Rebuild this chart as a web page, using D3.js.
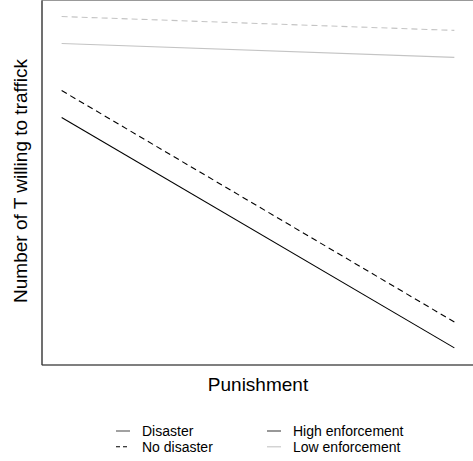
<!DOCTYPE html>
<html>
<head>
<meta charset="utf-8">
<script src="https://cdn.jsdelivr.net/npm/d3@7"></script>
<style>
  body { margin: 0; background: #fff; }
  text { font-family: "Liberation Sans", Arial, sans-serif; }
</style>
</head>
<body>
<svg id="chart" width="473" height="461"></svg>
<script>
// punishment level at the two ends of each line
const punishment = [0, 10];

// number of T willing to traffick (arbitrary units)
const lowNoDisaster = [95.6, 91.8];
const lowDisaster = [88.2, 84.4];
const highNoDisaster = [75.3, 11.8];
const highDisaster = [67.9, 4.7];

const series = [
  { name: "Low enforcement, no disaster", values: lowNoDisaster, color: "#c4c4c4", dash: "6,4" },
  { name: "Low enforcement, disaster", values: lowDisaster, color: "#c4c4c4", dash: null },
  { name: "High enforcement, no disaster", values: highNoDisaster, color: "#000", dash: "6,4" },
  { name: "High enforcement, disaster", values: highDisaster, color: "#000", dash: null }
];

const legendDisaster = ["Disaster", "No disaster"];
const legendEnforcement = ["High enforcement", "Low enforcement"];

const svg = d3.select("#chart");
const pLeft = 42, pTop = 0.5, pRight = 474, pBottom = 365;

const x = d3.scaleLinear().domain([-0.5, 10.5]).range([pLeft, pRight]);
const y = d3.scaleLinear().domain([0, 100]).range([pBottom, pTop]);

// panel frame
svg.append("rect")
  .attr("x", pLeft).attr("y", pTop)
  .attr("width", pRight - pLeft).attr("height", pBottom - pTop)
  .attr("fill", "none").attr("stroke", "#999");

svg.append("line")
  .attr("x1", pLeft).attr("x2", pLeft).attr("y1", pTop).attr("y2", pBottom)
  .attr("stroke", "#333").attr("stroke-width", 1.2);
svg.append("line")
  .attr("x1", pLeft).attr("x2", pRight).attr("y1", pBottom).attr("y2", pBottom)
  .attr("stroke", "#333").attr("stroke-width", 1.2);

const line = d3.line()
  .x((d, i) => x(punishment[i]))
  .y(d => y(d));

svg.selectAll(".series")
  .data(series)
  .enter()
  .append("path")
  .attr("class", "series")
  .attr("d", d => line(d.values))
  .attr("fill", "none")
  .attr("stroke", d => d.color)
  .attr("stroke-width", 1.1)
  .attr("stroke-dasharray", d => d.dash);

// axis titles
svg.append("text")
  .attr("x", 258)
  .attr("y", 390.5)
  .attr("text-anchor", "middle")
  .style("font-size", "19px")
  .text("Punishment");

svg.append("text")
  .attr("transform", "translate(27,181) rotate(-90)")
  .attr("text-anchor", "middle")
  .style("font-size", "19px")
  .text("Number of T willing to traffick");

// legend
const keyStyles = [
  [{ color: "#555", dash: null }, { color: "#000", dash: "4,3" }],
  [{ color: "#444", dash: null }, { color: "#c4c4c4", dash: null }]
];
const legendCols = [
  { labels: legendDisaster, kx: 116, tx: 142 },
  { labels: legendEnforcement, kx: 267, tx: 293 }
];
legendCols.forEach((col, c) => {
  col.labels.forEach((lab, r) => {
    const ly = 431 + r * 15.8;
    svg.append("line")
      .attr("x1", col.kx).attr("x2", col.kx + 14)
      .attr("y1", ly).attr("y2", ly)
      .attr("stroke", keyStyles[c][r].color)
      .attr("stroke-width", 1.1)
      .attr("stroke-dasharray", keyStyles[c][r].dash);
    svg.append("text")
      .attr("x", col.tx).attr("y", ly + 5)
      .style("font-size", "14px")
      .text(lab);
  });
});
</script>
</body>
</html>
